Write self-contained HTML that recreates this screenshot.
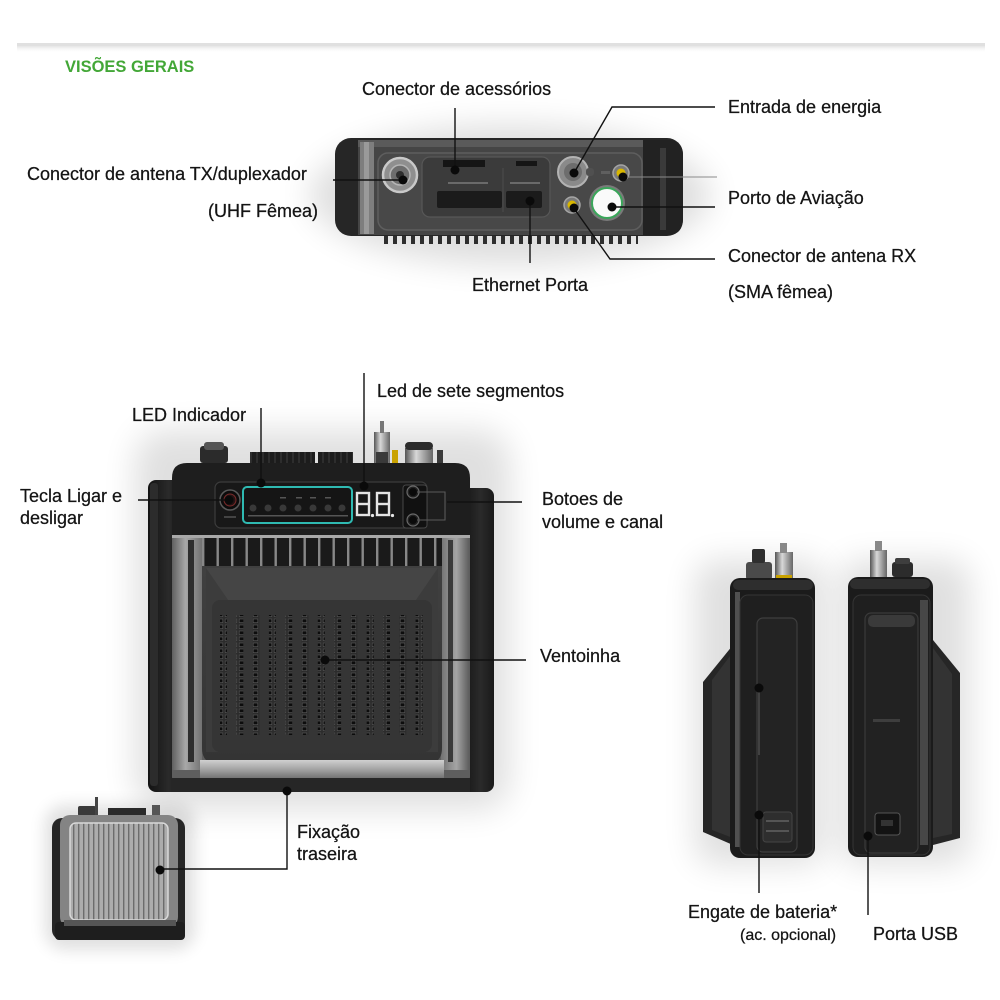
<!DOCTYPE html>
<html><head><meta charset="utf-8">
<style>
html,body{margin:0;padding:0;background:#fff;}
svg{display:block;}
text{font-family:"Liberation Sans",Arial,sans-serif;fill:#141414;font-size:18px;stroke:#141414;stroke-width:0.25px;}
</style></head><body>
<svg width="1000" height="1000" viewBox="0 0 1000 1000" xmlns="http://www.w3.org/2000/svg">
<defs>
 <filter id="bl" x="-50%" y="-50%" width="200%" height="200%"><feGaussianBlur stdDeviation="16"/></filter>
 <filter id="bl2" x="-50%" y="-50%" width="200%" height="200%"><feGaussianBlur stdDeviation="8"/></filter>
 <linearGradient id="silL" x1="0" y1="0" x2="1" y2="0"><stop offset="0" stop-color="#606060"/><stop offset=".45" stop-color="#a8a8a8"/><stop offset="1" stop-color="#727272"/></linearGradient>
 <linearGradient id="silR" x1="0" y1="0" x2="1" y2="0"><stop offset="0" stop-color="#727272"/><stop offset=".55" stop-color="#a4a4a4"/><stop offset="1" stop-color="#5e5e5e"/></linearGradient>
 <linearGradient id="silB" x1="0" y1="0" x2="0" y2="1"><stop offset="0" stop-color="#d0d0d0"/><stop offset=".5" stop-color="#a0a0a0"/><stop offset="1" stop-color="#686868"/></linearGradient>
 <linearGradient id="metal" x1="0" y1="0" x2="1" y2="0"><stop offset="0" stop-color="#555"/><stop offset=".4" stop-color="#d8d8d8"/><stop offset="1" stop-color="#666"/></linearGradient>
 <linearGradient id="band" x1="0" y1="0" x2="0" y2="1"><stop offset="0" stop-color="#dcdcdc"/><stop offset="1" stop-color="#fff" stop-opacity="0"/></linearGradient>
 <linearGradient id="face" x1="0" y1="0" x2="0" y2="1"><stop offset="0" stop-color="#404040"/><stop offset="1" stop-color="#343434"/></linearGradient>
 <linearGradient id="bumper" x1="0" y1="0" x2="1" y2="0"><stop offset="0" stop-color="#121212"/><stop offset=".6" stop-color="#2a2a2a"/><stop offset="1" stop-color="#1a1a1a"/></linearGradient>
 <pattern id="holes" width="7" height="6" patternUnits="userSpaceOnUse">
  <rect width="7" height="6" fill="#2c2c2c"/>
  <rect x="1.2" y="1" width="4.6" height="3.6" fill="#0c0c0c" stroke="#5a5a5a" stroke-width=".6"/>
 </pattern>
 <pattern id="fins" x="202" width="14.5" height="40" patternUnits="userSpaceOnUse">
  <rect width="14.5" height="40" fill="#1a1a1a"/>
  <rect x="0" width="2.4" height="40" fill="#888"/>
 </pattern>
 <pattern id="ribs" x="70" width="5" height="10" patternUnits="userSpaceOnUse">
  <rect width="5" height="10" fill="#acacac"/>
  <rect x="3" width="1.4" height="10" fill="#6c6c6c"/>
 </pattern>
 <pattern id="tfins" x="384" width="9" height="12" patternUnits="userSpaceOnUse">
  <rect x="0" width="4" height="12" fill="#2e2e2e"/>
 </pattern>
 <pattern id="hsink" width="6" height="20" patternUnits="userSpaceOnUse">
  <rect width="6" height="20" fill="#1c1c1c"/>
  <rect x="4.5" width="1" height="20" fill="#3e3e3e"/>
 </pattern>
</defs>

<!-- header band -->
<rect x="17" y="43" width="968" height="2" fill="#e0e0e0"/>
<rect x="17" y="45" width="968" height="8" fill="url(#band)"/>
<text x="65" y="72" style="font-size:16.5px;font-weight:bold;fill:#43a737;stroke:none">VISÕES GERAIS</text>

<!-- soft shadows -->
<ellipse cx="510" cy="195" rx="200" ry="70" fill="#000" opacity=".13" filter="url(#bl)"/>
<rect x="135" y="430" width="375" height="380" rx="30" fill="#000" opacity=".12" filter="url(#bl)"/>
<rect x="45" y="805" width="150" height="145" rx="20" fill="#000" opacity=".12" filter="url(#bl2)"/>
<rect x="695" y="560" width="130" height="305" rx="20" fill="#000" opacity=".12" filter="url(#bl)"/>
<rect x="840" y="560" width="130" height="305" rx="20" fill="#000" opacity=".12" filter="url(#bl)"/>

<!-- ================= TOP DEVICE (top view) ================= -->
<rect x="384" y="230" width="254" height="14" fill="url(#tfins)"/>
<rect x="335" y="138" width="348" height="98" rx="16" fill="#262626"/>
<rect x="358" y="140" width="290" height="95" fill="#454545"/>
<rect x="358" y="140" width="290" height="7" fill="#5a5a5a"/>
<rect x="360" y="142" width="14" height="92" fill="#7e7e7e"/>
<rect x="364" y="142" width="5" height="92" fill="#9a9a9a"/>
<rect x="378" y="153" width="264" height="77" rx="10" fill="#484848" stroke="#5e5e5e" stroke-width="1.5"/>
<path d="M643 140 H668 Q683 140 683 156 V218 Q683 235 668 235 H643 Z" fill="#222"/>
<rect x="660" y="148" width="6" height="82" fill="#3a3a3a"/>
<!-- UHF -->
<circle cx="400" cy="175" r="17" fill="#8f8f8f" stroke="#c9c9c9" stroke-width="2.5"/>
<circle cx="400" cy="175" r="10" fill="#6e6e6e" stroke="#b5b5b5" stroke-width="1.5"/>
<circle cx="400" cy="175" r="4" fill="#2e2e2e"/>
<!-- accessory / ethernet -->
<rect x="422" y="157" width="128" height="60" rx="8" fill="#3b3b3b" stroke="#575757" stroke-width="1.2"/>
<rect x="443" y="160" width="42" height="7" fill="#151515"/>
<rect x="516" y="161" width="21" height="5" fill="#151515"/>
<rect x="437" y="191" width="65" height="17" rx="2" fill="#1b1b1b"/>
<rect x="506" y="191" width="36" height="17" rx="2" fill="#1b1b1b"/>
<line x1="503" y1="168" x2="503" y2="212" stroke="#4e4e4e" stroke-width="1"/>
<rect x="448" y="182" width="40" height="2" fill="#6a6a6a"/>
<rect x="510" y="182" width="30" height="2" fill="#6a6a6a"/>
<!-- power in -->
<circle cx="573" cy="172" r="15" fill="#8a8a8a" stroke="#b3b3b3" stroke-width="2"/>
<circle cx="573" cy="172" r="9" fill="#6d6d6d"/>
<rect x="586" y="168" width="8" height="8" rx="3" fill="#505050"/>
<!-- SMA top -->
<rect x="601" y="171" width="9" height="3" fill="#5f5f5f"/>
<circle cx="621" cy="173" r="8" fill="#7a7a7a" stroke="#a5a5a5" stroke-width="1.5"/>
<circle cx="621" cy="173" r="4.5" fill="#d8b600"/>
<!-- SMA lower -->
<circle cx="572" cy="205" r="8" fill="#7a7a7a" stroke="#a5a5a5" stroke-width="1.5"/>
<circle cx="572" cy="205" r="4.5" fill="#d8b600"/>
<!-- aviation -->
<circle cx="607" cy="203" r="18" fill="#7a7a7a"/>
<circle cx="607" cy="203" r="15" fill="#fafafa" stroke="#3aa65a" stroke-width="2"/>

<!-- ================= FRONT DEVICE ================= -->
<!-- top connectors -->
<rect x="200" y="446" width="28" height="17" rx="3" fill="#2b2b2b"/>
<rect x="204" y="442" width="20" height="8" rx="3" fill="#555"/>
<rect x="250" y="452" width="65" height="11" fill="url(#hsink)"/>
<rect x="318" y="452" width="35" height="11" fill="url(#hsink)"/>
<rect x="374" y="432" width="16" height="31" fill="url(#metal)"/>
<rect x="380" y="421" width="4" height="12" fill="#777"/>
<rect x="376" y="452" width="12" height="11" fill="#3a3a3a"/>
<rect x="392" y="450" width="6" height="13" fill="#c9a200"/>
<rect x="405" y="448" width="28" height="15" fill="url(#metal)"/>
<rect x="405" y="442" width="28" height="8" rx="4" fill="#2c2c2c"/>
<rect x="437" y="450" width="6" height="13" fill="#3a3a3a"/>
<!-- bumpers -->
<rect x="148" y="480" width="34" height="312" rx="8" fill="url(#bumper)"/>
<rect x="150" y="483" width="8" height="303" rx="3" fill="#2c2c2c"/>
<rect x="460" y="488" width="34" height="304" rx="8" fill="url(#bumper)"/>
<!-- silver frame -->
<rect x="172" y="475" width="298" height="312" rx="10" fill="#5e5e5e"/>
<rect x="172" y="530" width="30" height="240" fill="url(#silL)"/>
<rect x="441" y="530" width="28" height="240" fill="url(#silR)"/>
<rect x="188" y="540" width="6" height="222" fill="#2e2e2e"/>
<rect x="448" y="540" width="5" height="222" fill="#3a3a3a"/>
<!-- top panel -->
<path d="M172 537 V478 Q172 463 187 463 H455 Q470 463 470 478 V537 Z" fill="#1e1e1e"/>
<rect x="172" y="535" width="298" height="3" fill="#a9a9a9"/>
<!-- fins -->
<rect x="202" y="538" width="240" height="30" fill="url(#fins)"/>
<!-- face -->
<path d="M202 566 H442 V748 Q442 764 426 764 H218 Q202 764 202 748 Z" fill="url(#face)"/>
<path d="M206 568 L228 600 H416 L438 568 Z" fill="#454545"/>
<path d="M206 568 L228 600 V752 H206 Z" fill="#3c3c3c"/>
<path d="M438 568 L416 600 V752 H438 Z" fill="#3c3c3c"/>
<rect x="212" y="600" width="220" height="152" rx="8" fill="#353535"/>
<!-- vent columns -->
<g fill="url(#holes)">
 <rect x="220" y="615" width="7" height="120"/>
 <rect x="236.3" y="615" width="7" height="120"/>
 <rect x="252.6" y="615" width="7" height="120"/>
 <rect x="268.9" y="615" width="7" height="120"/>
 <rect x="285.2" y="615" width="7" height="120"/>
 <rect x="301.5" y="615" width="7" height="120"/>
 <rect x="317.8" y="615" width="7" height="120"/>
 <rect x="334.1" y="615" width="7" height="120"/>
 <rect x="350.4" y="615" width="7" height="120"/>
 <rect x="366.7" y="615" width="7" height="120"/>
 <rect x="383" y="615" width="7" height="120"/>
 <rect x="399.3" y="615" width="7" height="120"/>
 <rect x="415.6" y="615" width="7" height="120"/>
</g>
<!-- bottom silver bar + base -->
<rect x="200" y="760" width="244" height="20" fill="url(#silB)"/>
<rect x="172" y="778" width="298" height="14" fill="#262626"/>
<!-- control strip -->
<rect x="215" y="482" width="212" height="46" rx="6" fill="#181818" stroke="#3c3c3c" stroke-width="1.2"/>
<circle cx="230" cy="500" r="10" fill="#0c0c0c" stroke="#5a5a5a" stroke-width="1.5"/>
<circle cx="230" cy="500" r="6" fill="#241414" stroke="#7a2a2a" stroke-width="1"/>
<rect x="224" y="516" width="12" height="2" fill="#444"/>
<rect x="243" y="487" width="109" height="36" rx="4" fill="#151515" stroke="#2fbab2" stroke-width="2"/>
<g fill="#393939">
 <circle cx="253" cy="508" r="3.5"/><circle cx="268" cy="508" r="3.5"/><circle cx="283" cy="508" r="3.5"/>
 <circle cx="298" cy="508" r="3.5"/><circle cx="313" cy="508" r="3.5"/><circle cx="328" cy="508" r="3.5"/><circle cx="342" cy="508" r="3.5"/>
</g>
<g fill="#555">
 <rect x="280" y="497" width="6" height="1.5"/><rect x="296" y="497" width="6" height="1.5"/><rect x="310" y="497" width="6" height="1.5"/><rect x="325" y="497" width="6" height="1.5"/>
 <rect x="248" y="515" width="100" height="1.5"/>
</g>
<!-- 7 seg -->
<g fill="none" stroke="#e4e4e4" stroke-width="2.4">
 <rect x="357" y="493" width="12" height="22"/><line x1="357" y1="504" x2="369" y2="504"/>
 <rect x="377" y="493" width="12" height="22"/><line x1="377" y1="504" x2="389" y2="504"/>
</g>
<circle cx="372.5" cy="515.5" r="1.6" fill="#e4e4e4"/>
<circle cx="392.5" cy="515.5" r="1.6" fill="#e4e4e4"/>
<!-- buttons -->
<rect x="403" y="485" width="24" height="43" rx="3" fill="#111" stroke="#474747" stroke-width="1"/>
<circle cx="413" cy="492" r="6" fill="#222" stroke="#6a6a6a" stroke-width="1.2"/>
<circle cx="413" cy="520" r="6" fill="#222" stroke="#6a6a6a" stroke-width="1.2"/>

<!-- ================= SMALL BACK DEVICE ================= -->
<rect x="78" y="806" width="18" height="10" rx="2" fill="#3a3a3a"/>
<rect x="95" y="797" width="3" height="18" fill="#444"/>
<rect x="108" y="808" width="38" height="8" fill="#2a2a2a"/>
<rect x="152" y="805" width="8" height="11" fill="#555"/>
<rect x="52" y="818" width="133" height="122" rx="10" fill="#262626"/>
<rect x="60" y="815" width="118" height="112" rx="10" fill="#848484"/>
<rect x="70" y="823" width="98" height="97" rx="6" fill="url(#ribs)" stroke="#d8d8d8" stroke-width="1.5"/>
<rect x="55" y="922" width="130" height="18" rx="4" fill="#1e1e1e"/>
<rect x="64" y="920" width="112" height="6" fill="#555"/>

<!-- ================= SIDE VIEW LEFT ================= -->
<rect x="746" y="562" width="26" height="18" rx="3" fill="#4a4a4a"/>
<rect x="752" y="549" width="13" height="14" rx="2" fill="#2e2e2e"/>
<rect x="775" y="552" width="18" height="28" fill="url(#metal)"/>
<rect x="780" y="543" width="7" height="10" fill="#888"/>
<rect x="776" y="575" width="16" height="4" fill="#c9a200"/>
<path d="M733 645 L703 682 V832 L733 845 Z" fill="#262626"/>
<path d="M733 652 L712 680 V830 L733 838 Z" fill="#333"/>
<rect x="730" y="578" width="85" height="280" rx="10" fill="#1b1b1b"/>
<rect x="733" y="580" width="80" height="10" rx="5" fill="#2e2e2e"/>
<rect x="735" y="592" width="5" height="255" fill="#505050"/>
<rect x="740" y="595" width="73" height="260" rx="8" fill="#1f1f1f" stroke="#343434" stroke-width="1"/>
<rect x="757" y="618" width="40" height="234" rx="6" fill="#232323" stroke="#3e3e3e" stroke-width="1.2"/>
<rect x="763" y="812" width="29" height="30" rx="3" fill="#2e2e2e" stroke="#444" stroke-width="1"/>
<rect x="766" y="820" width="23" height="2" fill="#555"/>
<rect x="766" y="830" width="23" height="2" fill="#555"/>

<!-- ================= SIDE VIEW RIGHT ================= -->
<rect x="870" y="550" width="17" height="27" fill="url(#metal)"/>
<rect x="875" y="541" width="7" height="10" fill="#888"/>
<rect x="892" y="562" width="21" height="15" rx="3" fill="#2c2c2c"/>
<rect x="895" y="558" width="15" height="6" rx="2" fill="#3e3e3e"/>
<path d="M933 640 L960 673 V838 L933 845 Z" fill="#262626"/>
<path d="M933 648 L952 674 V834 L933 838 Z" fill="#333"/>
<rect x="848" y="577" width="85" height="280" rx="10" fill="#1b1b1b"/>
<rect x="850" y="579" width="80" height="10" rx="5" fill="#2e2e2e"/>
<rect x="853" y="595" width="77" height="260" rx="8" fill="#1f1f1f" stroke="#343434" stroke-width="1"/>
<rect x="920" y="600" width="8" height="245" fill="#474747"/>
<rect x="865" y="613" width="53" height="240" rx="6" fill="#222" stroke="#3a3a3a" stroke-width="1.2"/>
<rect x="868" y="615" width="47" height="12" rx="5" fill="#3a3a3a"/>
<rect x="873" y="719" width="27" height="3" fill="#3e3e3e"/>
<rect x="875" y="813" width="25" height="22" rx="3" fill="#131313" stroke="#555" stroke-width="1"/>
<rect x="881" y="820" width="12" height="6" fill="#333"/>

<!-- ================= LEADER LINES ================= -->
<g stroke="#111" stroke-width="1.4" fill="none">
 <line x1="455" y1="108" x2="455" y2="170"/>
 <line x1="333" y1="180" x2="403" y2="180"/>
 <polyline points="715,107 612,107 574,173"/>
 <line x1="612" y1="207" x2="715" y2="207"/>
 <polyline points="715,259 610,259 573,207"/>
 <line x1="530" y1="201" x2="530" y2="263"/>
 <line x1="261" y1="408" x2="261" y2="483"/>
 <line x1="364" y1="373" x2="364" y2="486"/>
 <line x1="138" y1="500" x2="229" y2="500"/>
 <line x1="447" y1="502" x2="522" y2="502"/>
 <line x1="325" y1="660" x2="526" y2="660"/>
 <polyline points="287,791 287,869 160,869"/>
 <line x1="759" y1="815" x2="759" y2="893"/>
 <line x1="868" y1="836" x2="868" y2="915"/>
</g>
<g stroke="#5a5a5a" stroke-width="1.1" fill="none">
 <line x1="623" y1="177" x2="717" y2="177" stroke="#8a8a8a"/>
 <polyline points="413,492 445,492 445,520 413,520"/>
 <line x1="759" y1="688" x2="759" y2="755"/>
</g>
<g fill="#0a0a0a">
 <circle cx="455" cy="170" r="4.5"/>
 <circle cx="403" cy="180" r="4.5"/>
 <circle cx="574" cy="173" r="4.5"/>
 <circle cx="623" cy="177" r="4.5"/>
 <circle cx="612" cy="207" r="4.5"/>
 <circle cx="574" cy="208" r="4.5"/>
 <circle cx="530" cy="201" r="4.5"/>
 <circle cx="261" cy="483" r="4.5"/>
 <circle cx="364" cy="486" r="4.5"/>
 <circle cx="229" cy="500" r="4.5"/>
 <circle cx="413" cy="492" r="4"/>
 <circle cx="413" cy="520" r="4"/>
 <circle cx="325" cy="660" r="4.5"/>
 <circle cx="287" cy="791" r="4.5"/>
 <circle cx="160" cy="870" r="4.5"/>
 <circle cx="759" cy="688" r="4.5"/>
 <circle cx="759" cy="815" r="4.5"/>
 <circle cx="868" cy="836" r="4.5"/>
</g>

<!-- ================= LABELS ================= -->
<text x="362" y="95">Conector de acessórios</text>
<text x="27" y="180">Conector de antena TX/duplexador</text>
<text x="208" y="217">(UHF Fêmea)</text>
<text x="728" y="113">Entrada de energia</text>
<text x="728" y="204">Porto de Aviação</text>
<text x="728" y="262">Conector de antena RX</text>
<text x="728" y="298">(SMA fêmea)</text>
<text x="472" y="291">Ethernet Porta</text>
<text x="377" y="397">Led de sete segmentos</text>
<text x="132" y="421">LED Indicador</text>
<text x="20" y="502">Tecla Ligar e</text>
<text x="20" y="524">desligar</text>
<text x="542" y="505">Botoes de</text>
<text x="542" y="528">volume e canal</text>
<text x="540" y="662">Ventoinha</text>
<text x="297" y="838">Fixação</text>
<text x="297" y="860">traseira</text>
<text x="688" y="918">Engate de bateria*</text>
<text x="740" y="940" style="font-size:16px">(ac. opcional)</text>
<text x="873" y="940">Porta USB</text>
</svg>
</body></html>
